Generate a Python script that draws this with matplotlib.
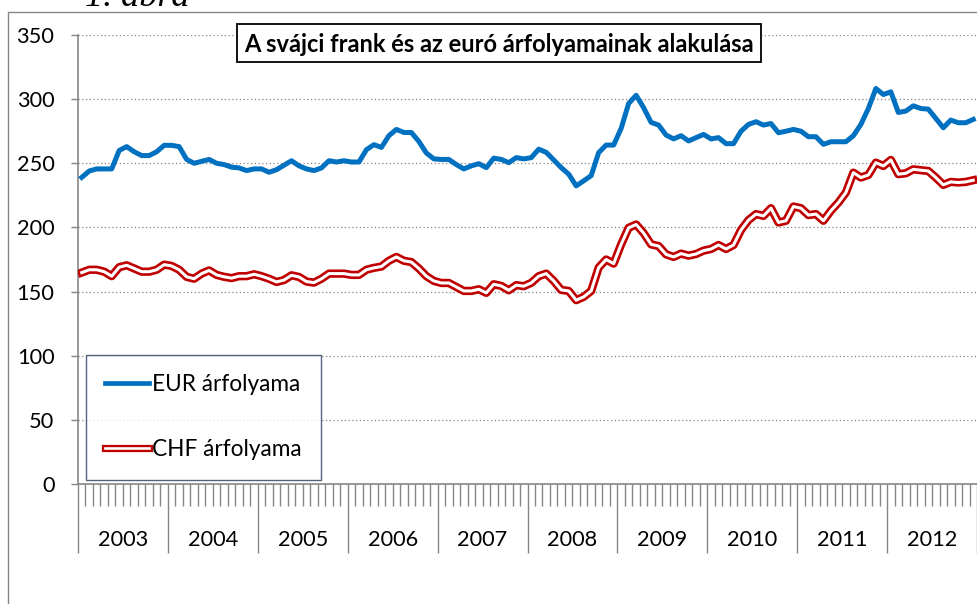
import numpy as np
import matplotlib
matplotlib.use("Agg")
import matplotlib.pyplot as plt
from matplotlib.lines import Line2D
from matplotlib.patches import Rectangle

plt.rcParams['font.family'] = ['Lato', 'DejaVu Sans']

# havi adatok 2003 jan - 2012 dec (leolvasott értékek)
years = ['2003', '2004', '2005', '2006', '2007', '2008', '2009', '2010', '2011', '2012']

eur = [239, 244, 245.6, 245.6, 245.6, 260, 263, 259, 256, 256, 259, 264,
       264, 263, 253, 250, 251.5, 253, 250, 249, 247, 246.4, 244.3, 245.6,
       245.6, 243, 245, 248.5, 252, 248, 245.6, 244.3, 246.4, 252, 251, 252,
       251, 251, 260.6, 264.5, 262.4, 271.5, 276.4, 274, 274, 267, 258, 253.4,
       253, 253, 249, 245.6, 248, 249.7, 246.6, 254, 253, 250.5, 254.4, 253.4,
       254.4, 261, 258.5, 252.6, 246.6, 241.5, 232.4, 236.3, 240.4, 258.3, 264.2, 264.2,
       277.2, 296.6, 303, 293.3, 281.9, 279.8, 272, 269, 271.5, 267.4, 270, 272.5,
       269, 270, 265.3, 265.3, 275, 280.3, 282.4, 279.8, 281, 273.8, 275, 276.4,
       275, 270.7, 270.7, 264.8, 266.8, 266.8, 266.8, 271.5, 280.3, 292.7, 308.3, 303.6,
       305.7, 289.6, 290.7, 294.8, 292.7, 292.2, 285, 277.7, 283.7, 281.6, 281.6, 284.2]

chf = [164.8, 167, 167, 165.5, 162, 169, 170.5, 168, 165.5, 165.5, 167, 171,
       170, 167, 161.5, 160, 164, 166.5, 163, 161.5, 160.5, 162, 162, 163.5,
       162, 160, 157.5, 159, 162.7, 161.4, 157.8, 157, 160, 164, 164, 164,
       163, 163, 167, 168.5, 169.5, 174, 177, 174, 173, 168, 162, 158.3,
       156.7, 156.7, 153.6, 150.5, 150.5, 151.8, 149, 155.7, 154.4, 151, 155, 154.2,
       156.8, 162, 164, 158.3, 151.3, 150.5, 143.3, 145.9, 150.5, 168.7, 175, 171.8,
       186.8, 199.7, 202.3, 195.6, 186.8, 185.5, 179, 177, 179.6, 178, 179.3, 181.9,
       183.2, 186.3, 183.2, 186.3, 198, 205.7, 210.4, 209, 215, 203.9, 205.2, 216.3,
       215, 209.6, 210.4, 205.2, 213, 219.4, 227.2, 242.7, 238.9, 240.9, 250.5, 247.9,
       252.6, 241.5, 242.2, 245.3, 244.6, 244, 238.9, 233.2, 235.5, 235, 235.5, 236.8]

W, H = 977, 604
fig = plt.figure(figsize=(W / 100, H / 100), dpi=100)
ax = fig.add_axes([78 / W, (H - 484) / H, (977 - 78) / W, (484 - 35) / H])

gray = '#868686'
x = np.arange(len(eur)) + 0.5

ax.plot(x, eur, color='#0070C0', lw=3.6, solid_joinstyle='round', zorder=3)
ax.plot(x, chf, color='#C00000', lw=6.0, solid_joinstyle='round', zorder=3)
ax.plot(x, chf, color='white', lw=2.2, solid_joinstyle='round', zorder=4)

ax.set_xlim(0, 120)
ax.set_ylim(0, 350)
ax.set_yticks(range(0, 351, 50))
ax.yaxis.grid(True, color=gray, ls=(0, (1, 2)), lw=0.9)
ax.set_axisbelow(True)

for s in ['top', 'right']:
    ax.spines[s].set_visible(False)
for s in ['left', 'bottom']:
    ax.spines[s].set_color(gray)
    ax.spines[s].set_linewidth(1.2)

ax.tick_params(axis='y', direction='out', length=5, color=gray, width=1,
               pad=12, labelsize=15.7)
ax.set_xticks(range(0, 121, 12))
ax.set_xticks([m for m in range(121) if m % 12], minor=True)
ax.tick_params(axis='x', which='major', direction='out', length=50, color=gray,
               width=1, labelbottom=False)
ax.tick_params(axis='x', which='minor', direction='out', length=15.8, color=gray,
               width=1)
for k, yr in enumerate(years):
    ax.text(12 * k + 6, -56 / 449, yr, transform=ax.get_xaxis_transform(),
            ha='center', va='center', fontsize=15.7, clip_on=False)

# legend
h_eur = Line2D([], [], color='#0070C0', lw=3.4)
h_chf = (Line2D([], [], color='#C00000', lw=5.2), Line2D([], [], color='white', lw=1.9))
leg = ax.legend([h_eur, h_chf], ['EUR árfolyama', 'CHF árfolyama'],
                loc='upper left', bbox_to_anchor=(86 / W, 1 - 355 / H),
                bbox_transform=fig.transFigure, borderaxespad=0,
                fontsize=16.3, frameon=True, fancybox=False, borderpad=0.85,
                labelspacing=1.95, handlelength=1.95, handletextpad=0.12)
leg.get_frame().set_edgecolor('#243F60')
leg.get_frame().set_linewidth(1.0)

# title box
fig.patches.append(Rectangle((237 / W, 1 - 62 / H), (761 - 237) / W, 38 / H,
                             transform=fig.transFigure, facecolor='white',
                             edgecolor='black', lw=1.3, zorder=5))
fig.text(499 / W, 1 - 44 / H, 'A svájci frank és az euró árfolyamainak alakulása',
         ha='center', va='center', fontsize=17, fontweight='bold', zorder=6)

# chart area frame and cut-off caption
fig.patches.append(Rectangle((7.5 / W, -0.1), 1.2, 1.1 - 12 / H,
                             transform=fig.transFigure, fill=False,
                             edgecolor=gray, lw=1.0))
fig.text(85 / W, 1 - 6 / H, '1. ábra', family=['Liberation Serif'], style='italic',
         fontsize=26, va='baseline', ha='left')

fig.savefig('out.png', dpi=100)
